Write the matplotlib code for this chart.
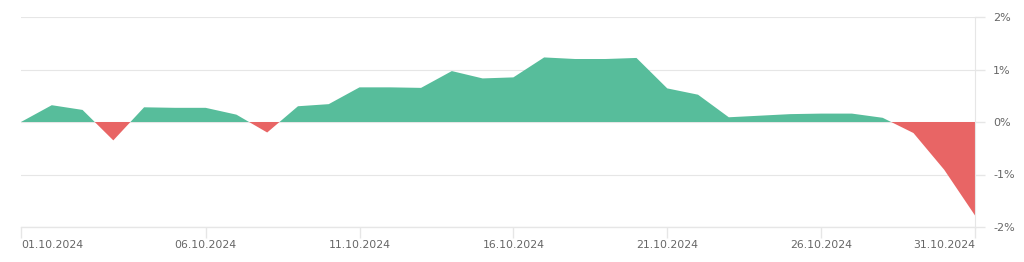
import matplotlib.pyplot as plt
import numpy as np

# day index: 0 = axis start (labelled 01.10.2024), 31 = 31.10.2024
days = np.arange(0, 32)
values = [0.0, 0.32, 0.23, -0.35, 0.28, 0.27, 0.27, 0.14, -0.20, 0.30,
          0.34, 0.66, 0.66, 0.65, 0.97, 0.83, 0.85, 1.23, 1.20, 1.20,
          1.22, 0.64, 0.52, 0.09, 0.12, 0.15, 0.16, 0.16, 0.08, -0.21,
          -0.91, -1.78]
tick_days = [0, 6, 11, 16, 21, 26, 31]
tick_labels = ['01.10.2024', '06.10.2024', '11.10.2024', '16.10.2024',
               '21.10.2024', '26.10.2024', '31.10.2024']
y_ticks = [-2, -1, 0, 1, 2]

green = '#57bd9b'
red = '#e86565'
grid_c = '#e6e6e6'
text_c = '#666666'

x = np.array(days, dtype=float)
y = np.array(values)

fig = plt.figure(figsize=(10.24, 2.62), dpi=100)
ax = fig.add_axes([21 / 1024, 1 - 227 / 262, (975 - 21) / 1024, (227 - 17) / 262])

ax.fill_between(x, y, 0, where=y >= 0, interpolate=True, color=green, lw=0)
ax.fill_between(x, y, 0, where=y <= 0, interpolate=True, color=red, lw=0)

ax.set_xlim(0, 31)
ax.set_ylim(-2, 2)
ax.set_yticks(y_ticks)
ax.set_yticklabels([f'{v}%' for v in y_ticks])
ax.yaxis.tick_right()
ax.set_xticks(tick_days)
ax.set_xticklabels(tick_labels)
xl = ax.get_xticklabels()
xl[0].set_ha('left')
xl[-1].set_ha('right')

ax.grid(axis='y', color=grid_c, lw=0.8)
ax.set_axisbelow(True)
for s in ['top', 'left']:
    ax.spines[s].set_visible(False)
ax.spines['right'].set_color(grid_c)
ax.spines['bottom'].set_color(grid_c)
ax.spines['bottom'].set_linewidth(1.0)

ax.tick_params(axis='x', colors=grid_c, labelcolor=text_c, labelsize=7.8,
               length=8, width=1, pad=1)
ax.tick_params(axis='y', colors=grid_c, labelcolor=text_c, labelsize=8,
               length=7, width=1, pad=6)

fig.savefig('out.png', dpi=100, facecolor='white')
